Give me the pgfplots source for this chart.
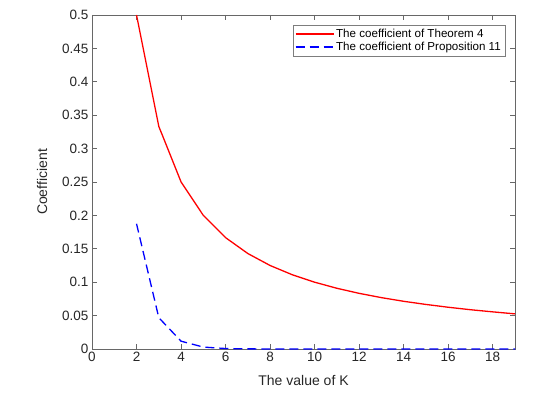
\documentclass[border=0pt]{standalone}
\usepackage{fontspec}
\setmainfont{Liberation Sans}
\usepackage{pgfplots}
\pgfplotsset{compat=1.18}
\definecolor{axgray}{HTML}{262626}
\definecolor{mblue}{HTML}{0000FF}
\begin{document}
\begin{tikzpicture}[x=1pt,y=1pt]
\begin{axis}[
  at={(0,0)}, anchor=south west,
  scale only axis,
  width=423pt, height=334pt,
  xmin=0, xmax=19, ymin=0, ymax=0.5,
  xtick={0,2,...,18},
  ytick={0,0.05,...,0.5},
  yticklabels={0,0.05,0.1,0.15,0.2,0.25,0.3,0.35,0.4,0.45,0.5},
  tick align=inside,
  major tick length=5pt,
  axis line style={draw=axgray!70, line width=0.8pt},
  tick style={draw=axgray!70, line width=0.8pt},
  ticklabel style={font=\fontsize{13.5}{15}\selectfont, text=axgray},
  /pgf/number format/assume math mode=true,
  xlabel={The value of K},
  ylabel={Coefficient},
  xlabel style={yshift=-6pt},
  ylabel style={yshift=8pt},
  label style={font=\fontsize{14}{16}\selectfont, text=axgray},
  legend style={at={(1,1)}, xshift=-10pt, yshift=-10pt, anchor=north east,
    font=\fontsize{11.6}{13.5}\selectfont, draw=axgray!60,
    inner sep=2pt, row sep=-1pt},
  legend cell align=left,
  legend image code/.code={\draw[#1] (0pt,0pt) -- (38pt,0pt);},
]
\addplot[color=red, line width=1.3pt] coordinates {
  (2,0.5) (3,0.3333) (4,0.25) (5,0.2) (6,0.1667) (7,0.1429) (8,0.125)
  (9,0.1111) (10,0.1) (11,0.0909) (12,0.0833) (13,0.0769) (14,0.0714)
  (15,0.0667) (16,0.0625) (17,0.0588) (18,0.0556) (19,0.0526)
};
\addlegendentry{The coefficient of Theorem 4}
\addplot[color=mblue, line width=1.3pt, dash pattern=on 9pt off 5pt] coordinates {
  (2,0.1875) (3,0.0469) (4,0.0117) (5,0.0029) (6,0.0007) (7,0.0002)
  (8,0.00005) (9,0.00001) (10,0) (11,0) (12,0) (13,0) (14,0) (15,0)
  (16,0) (17,0) (18,0) (19,0)
};
\addlegendentry{The coefficient of Proposition 11}
\end{axis}
\path[use as bounding box] (-92,-44) rectangle (464,349);
\end{tikzpicture}
\end{document}
